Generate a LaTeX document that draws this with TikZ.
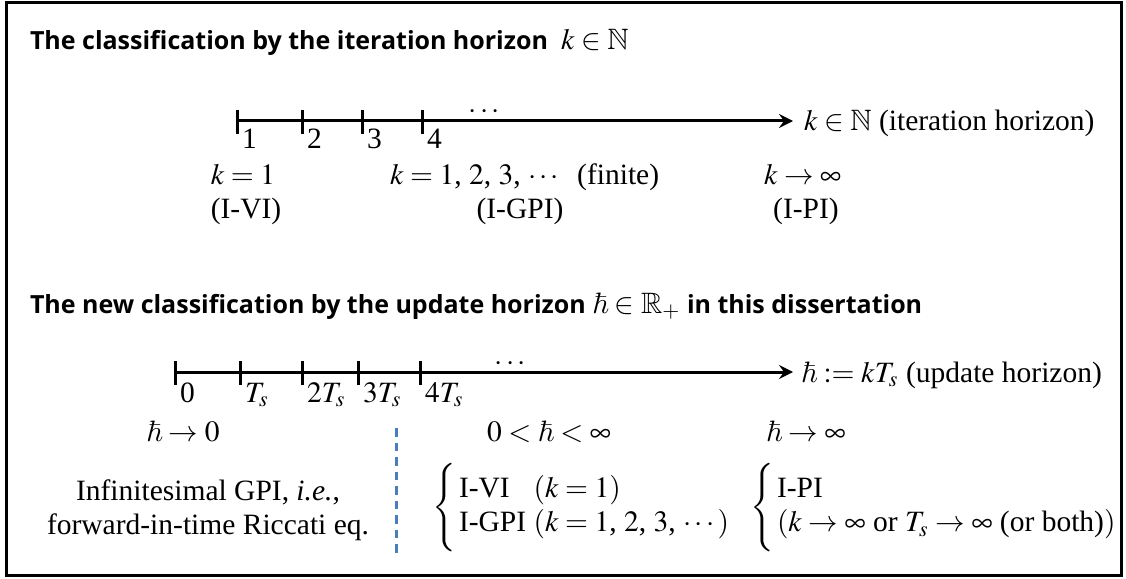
\documentclass[tikz,border=0pt]{standalone}
\usepackage{mathptmx}
\usepackage{amsmath,amssymb}
\usepackage{fontspec}
\setmainfont{Liberation Serif}
\newfontfamily\titlefont{Open Sans}
\usetikzlibrary{arrows.meta}
\DeclareMathSymbol{\myhbar}{\mathord}{AMSb}{"7E}
\definecolor{dashblue}{RGB}{74,126,187}
\newcommand{\mth}{\fontsize{11.8}{13.6}\selectfont}
\begin{document}
\begin{tikzpicture}[x=0.4pt,y=-0.4pt,
  txt/.style={font=\fontsize{11.8}{13.6}\selectfont, inner sep=0pt, outer sep=0pt},
  ttl/.style={font=\titlefont\bfseries\fontsize{10}{12}\selectfont, inner sep=0pt, outer sep=0pt},
  axis/.style={line width=1.2pt, -{Stealth[length=5.6pt,width=5.6pt,inset=2pt]}},
  tickmark/.style={line width=1.2pt},
  frame/.style={line width=1.2pt},
  sepline/.style={draw=dashblue, line width=1.2pt, dash pattern=on 3.4pt off 2.4pt}]
\useasboundingbox (0,0) rectangle (1126,579);
\draw[frame] (6,3) rectangle (1121,575);

% ---- first part
\node[ttl, anchor=base west] (title1) at (30,50) {The classification by the iteration horizon\ \ {\mth$k\in\mathbb{N}$}};
\coordinate (a1s) at (237,121);
\coordinate (a1e) at (793,121);
\draw[axis] (a1s) -- (a1e);
\foreach \x/\l [count=\i] in {237/1,302/2,362/3,422/4}{
  \draw[tickmark] (\x,110) -- (\x,134);
  \node[txt, anchor=base west] (k\i) at (\x+5,149) {\l};
}
\node[txt, anchor=base] (dots1) at (486,119) {$\cdots$};
\node[txt, anchor=base west] (ax1) at (804,131) {$k\in\mathbb{N}$ (iteration horizon)};
\node[txt, anchor=base] (r1a) at (243,184) {$k=1$};
\node[txt, anchor=base west] (r1b) at (390,184) {$k=1$, $2$, $3$, $\cdots$\ \ (finite)};
\node[txt, anchor=base west] (r1c) at (764,184) {$k\to\infty$};
\node[txt, anchor=base] (r1d) at (246,219) {(I-VI)};
\node[txt, anchor=base] (r1e) at (520,219) {(I-GPI)};
\node[txt, anchor=base] (r1f) at (806,219) {(I-PI)};

% ---- second part
\node[ttl, anchor=base west] (title2) at (30,313) {The new classification by the update horizon {\mth$\myhbar\in\mathbb{R}_+$} in this dissertation};
\coordinate (a2s) at (175,372);
\coordinate (a2e) at (793,372);
\draw[axis] (a2s) -- (a2e);
\foreach \x/\l [count=\i] in {175/0,240/$T_s$,302/$2T_s$,358/$3T_s$,420/$4T_s$}{
  \draw[tickmark] (\x,361) -- (\x,385);
  \node[txt, anchor=base west] (h\i) at (\x+5,402) {\l};
}
\node[txt, anchor=base] (dots2) at (512,370) {$\cdots$};
\node[txt, anchor=base west] (ax2) at (801,382) {$\myhbar:=kT_s$ (update horizon)};
\node[txt, anchor=base] (r2a) at (183,441) {$\myhbar\to0$};
\node[txt, anchor=base west] (r2b) at (487,441) {$0<\myhbar<\infty$};
\node[txt, anchor=base west] (r2c) at (766,441) {$\myhbar\to\infty$};
\node[txt, anchor=base] (inf1) at (208,500) {Infinitesimal GPI, \textit{i.e.},};
\node[txt, anchor=base] (inf2) at (208,534) {forward-in-time Riccati eq.};
\coordinate (ds) at (396,428);
\coordinate (de) at (396,557);
\draw[sepline] (ds) -- (de);
\node[txt, anchor=west] (b1) at (432,508) {$\delimitershortfall=-7pt\left\{\,\begin{array}{@{}l@{\ }l@{}}\text{I-VI} & (k=1)\\ \text{I-GPI} & \text{$(k=1$, $2$, $3$, $\cdots)$}\end{array}\right.$};
\node[txt, anchor=west] (b2) at (750,508) {$\delimitershortfall=-7pt\left\{\,\begin{array}{@{}l@{}}\text{I-PI}\\ (k\to\infty\text{ or }T_s\to\infty\text{ (or both)})\end{array}\right.$};
\end{tikzpicture}
\end{document}
